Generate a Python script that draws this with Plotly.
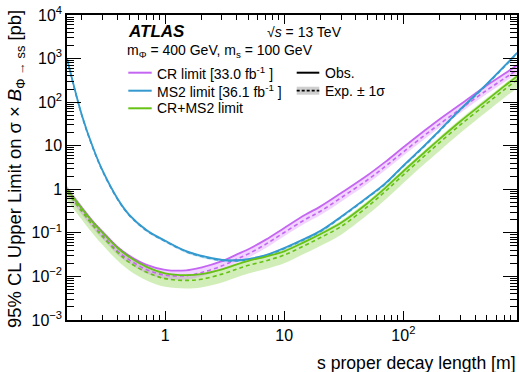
import plotly.graph_objects as go

# ---------------- data ----------------
decay_length = [0.15, 0.2, 0.25, 0.3, 0.4, 0.5, 0.7, 1, 1.5, 2, 3, 4, 5, 7, 10, 15, 20,
                30, 50, 70, 100, 150, 200, 300, 500, 700, 900]

cr_obs = [1.02, 0.37, 0.175, 0.104, 0.047, 0.030, 0.0185, 0.0142, 0.0138, 0.0160, 0.0225,
          0.032, 0.042, 0.07, 0.13, 0.26, 0.40, 0.82, 2.1, 4.2, 9.2, 22, 40, 88, 240, 440, 700]
cr_exp = [0.9, 0.32, 0.15, 0.087, 0.038, 0.024, 0.0143, 0.0107, 0.0104, 0.0122, 0.0175,
          0.025, 0.033, 0.055, 0.102, 0.203, 0.31, 0.64, 1.64, 3.3, 7.2, 17.2, 31, 69, 187, 345, 550]
cr_lo = [0.74, 0.26, 0.123, 0.071, 0.031, 0.0197, 0.0117, 0.0088, 0.0085, 0.010, 0.0144,
         0.0205, 0.027, 0.045, 0.084, 0.166, 0.254, 0.52, 1.34, 2.7, 5.9, 14.1, 25.4, 56, 153, 283, 451]
cr_hi = [1.17, 0.42, 0.195, 0.113, 0.049, 0.031, 0.0186, 0.0139, 0.0135, 0.0159, 0.0228,
         0.0325, 0.043, 0.0715, 0.133, 0.264, 0.40, 0.83, 2.13, 4.3, 9.3, 22.4, 40.3, 90, 243, 449, 715]

ms2_obs = [1000, 50, 8.5, 2.6, 0.6, 0.26, 0.115, 0.066, 0.038, 0.030, 0.024, 0.0235, 0.025,
           0.031, 0.045, 0.074, 0.11, 0.235, 0.66, 1.35, 3.5, 10, 22, 68, 260, 660, 1350]
ms2_exp = [970, 48.5, 8.25, 2.52, 0.58, 0.252, 0.112, 0.064, 0.037, 0.029, 0.0233, 0.0228,
           0.0243, 0.030, 0.0437, 0.072, 0.107, 0.228, 0.64, 1.31, 3.4, 9.7, 21.4, 66, 252, 640, 1310]
ms2_lo = [900, 45.5, 7.7, 2.36, 0.54, 0.236, 0.105, 0.060, 0.0345, 0.027, 0.0218, 0.0213,
          0.0227, 0.028, 0.041, 0.0675, 0.100, 0.213, 0.60, 1.22, 3.15, 9.0, 20, 62, 236, 600, 1225]
ms2_hi = [1050, 52, 8.9, 2.72, 0.63, 0.272, 0.121, 0.069, 0.040, 0.0315, 0.0254, 0.0248,
          0.0264, 0.0325, 0.0475, 0.078, 0.116, 0.247, 0.69, 1.42, 3.7, 10.5, 23.2, 71.5, 273, 693, 1420]

comb_obs = [1.0, 0.36, 0.17, 0.10, 0.045, 0.028, 0.0166, 0.0118, 0.0107, 0.0113, 0.0145,
            0.019, 0.0228, 0.0286, 0.0377, 0.063, 0.093, 0.17, 0.48, 1.05, 2.6, 7.0, 14, 36, 110, 230, 390]
comb_exp = [0.88, 0.31, 0.142, 0.08, 0.035, 0.021, 0.0125, 0.0089, 0.0081, 0.0086, 0.0113,
            0.0148, 0.018, 0.0228, 0.031, 0.052, 0.077, 0.14, 0.4, 0.88, 2.15, 5.8, 11.6, 30, 92, 192, 325]
comb_lo = [0.57, 0.2, 0.092, 0.052, 0.0228, 0.0137, 0.0081, 0.0058, 0.0053, 0.0056, 0.0073,
           0.0096, 0.0117, 0.0148, 0.020, 0.034, 0.050, 0.091, 0.26, 0.57, 1.4, 3.8, 7.5, 19.5, 60, 125, 210]
comb_hi = [1.19, 0.42, 0.19, 0.108, 0.047, 0.028, 0.0169, 0.012, 0.0109, 0.0116, 0.0153,
           0.020, 0.0243, 0.031, 0.042, 0.070, 0.104, 0.19, 0.54, 1.19, 2.9, 7.8, 15.7, 40.5, 124, 259, 440]

y_tick_vals = [1e-3, 1e-2, 1e-1, 1, 10, 100, 1e3, 1e4]
y_tick_text = ["10<sup>−3</sup>", "10<sup>−2</sup>", "10<sup>−1</sup>", "1", "10",
               "10<sup>2</sup>", "10<sup>3</sup>", "10<sup>4</sup>"]
x_tick_vals = [1, 10, 100]
x_tick_text = ["1", "10", "10<sup>2</sup>"]

# ---------------- style ----------------
W, H = 519, 372
L, R, T, B = 67, 2, 15, 52
FONT = "Liberation Sans, Arial, Helvetica, sans-serif"
C_CR = "#c466f2"
C_MS2 = "#3499cf"
C_CMB = "#66c214"
F_CR = "rgba(204,102,255,0.28)"
F_MS2 = "rgba(52,153,207,0.30)"
F_CMB = "rgba(120,205,50,0.34)"
DASH = "4px,3px"


def px(xp):
    # page pixel -> paper coordinate
    return (xp - L) / (W - L - R)


def py(yp):
    return (H - B - yp) / (H - T - B)


fig = go.Figure()

for lo, hi, fc in [(comb_lo, comb_hi, F_CMB), (cr_lo, cr_hi, F_CR), (ms2_lo, ms2_hi, F_MS2)]:
    fig.add_trace(go.Scatter(x=decay_length, y=lo, mode="lines", line=dict(width=0, shape="spline"),
                             showlegend=False, hoverinfo="skip"))
    fig.add_trace(go.Scatter(x=decay_length, y=hi, mode="lines", line=dict(width=0, shape="spline"),
                             fill="tonexty", fillcolor=fc, showlegend=False, hoverinfo="skip"))

for ex, ob, c in [(cr_exp, cr_obs, C_CR), (ms2_exp, ms2_obs, C_MS2), (comb_exp, comb_obs, C_CMB)]:
    fig.add_trace(go.Scatter(x=decay_length, y=ex, mode="lines",
                             line=dict(color=c, width=1.6, dash=DASH, shape="spline"), showlegend=False))
    fig.add_trace(go.Scatter(x=decay_length, y=ob, mode="lines",
                             line=dict(color=c, width=1.8, shape="spline"), showlegend=False))

minor_x = [0.2, 0.3, 0.4, 0.5, 0.6, 0.7, 0.8, 0.9] + [m * d for d in (1, 10, 100) for m in range(2, 10)]
minor_y = [m * 10 ** e for e in range(-3, 4) for m in range(2, 10)]

fig.update_xaxes(type="log", range=[-0.824, 2.954], tickmode="array", tickvals=x_tick_vals,
                 ticktext=x_tick_text, ticks="inside", ticklen=9, tickwidth=1, tickcolor="black",
                 showline=True, linecolor="black", linewidth=1.5, mirror="ticks", showgrid=False,
                 zeroline=False, tickfont=dict(size=16, color="black", family=FONT),
                 minor=dict(tickmode="array", tickvals=minor_x, ticks="inside", ticklen=5,
                            tickcolor="black", showgrid=False))
fig.update_yaxes(type="log", range=[-3, 4.0001], tickmode="array", tickvals=y_tick_vals,
                 ticktext=y_tick_text, ticks="inside", ticklen=14, tickwidth=1, tickcolor="black",
                 showline=True, linecolor="black", linewidth=1.5, mirror="ticks", showgrid=False,
                 zeroline=False, tickfont=dict(size=16, color="black", family=FONT),
                 minor=dict(tickmode="array", tickvals=minor_y, ticks="inside", ticklen=7,
                            tickcolor="black", showgrid=False))

shapes = []
ann = []

# legend lines
for yl, c in [(72.7, C_CR), (90.7, C_MS2), (108.3, C_CMB)]:
    shapes.append(dict(type="line", xref="paper", yref="paper", x0=px(128.3), x1=px(151.7),
                       y0=py(yl), y1=py(yl), line=dict(color=c, width=2)))
shapes.append(dict(type="line", xref="paper", yref="paper", x0=px(296.7), x1=px(319.3),
                   y0=py(72.7), y1=py(72.7), line=dict(color="black", width=2)))
shapes.append(dict(type="rect", xref="paper", yref="paper", x0=px(296.7), x1=px(319.3),
                   y0=py(94.7), y1=py(86.7), line=dict(width=0), fillcolor="#cfcfcf"))
shapes.append(dict(type="line", xref="paper", yref="paper", x0=px(296.7), x1=px(319.3),
                   y0=py(90.7), y1=py(90.7), line=dict(color="black", width=1.8, dash="3px,2px")))


def text(xp, yp, s, size=14, xanchor="left", **kw):
    ann.append(dict(xref="paper", yref="paper", x=px(xp), y=py(yp), text=s, showarrow=False,
                    xanchor=xanchor, yanchor="middle", font=dict(size=size, color="black", family=FONT), **kw))


text(155, 72.7, "CR limit [33.0 fb<sup>-1</sup> ]")
text(155, 90.7, "MS2 limit [36.1 fb<sup>-1</sup> ]")
text(155, 108.3, "CR+MS2 limit")
text(323, 72.7, "Obs.")
text(323, 90.7, "Exp. ± 1σ")
text(126, 32, "<b><i>ATLAS</i></b>", size=17)
text(265, 32, "√<i>s</i> = 13 TeV")
text(125, 51, "m<sub>Φ</sub> = 400 GeV, m<sub>s</sub> = 100 GeV")

ann.append(dict(xref="paper", yref="paper", x=px(518), y=py(363), text="s proper decay length [m]",
                showarrow=False, xanchor="right", yanchor="middle",
                font=dict(size=17.6, color="black", family=FONT)))
ann.append(dict(xref="paper", yref="paper", x=px(16), y=py(8),
                text="95% CL Upper Limit on σ × <i>B</i><sub>Φ → ss</sub> [pb]",
                textangle=-90, showarrow=False, xanchor="center", yanchor="top",
                font=dict(size=18.4, color="black", family=FONT)))

fig.update_layout(width=W, height=H, margin=dict(l=L, r=R, t=T, b=B, autoexpand=False),
                  paper_bgcolor="white", plot_bgcolor="white", shapes=shapes, annotations=ann,
                  showlegend=False, font=dict(family=FONT, color="black"))

fig.write_html("out.html", config={"displayModeBar": False},
               post_script="document.body.style.margin='0px';document.body.style.overflow='hidden';")
